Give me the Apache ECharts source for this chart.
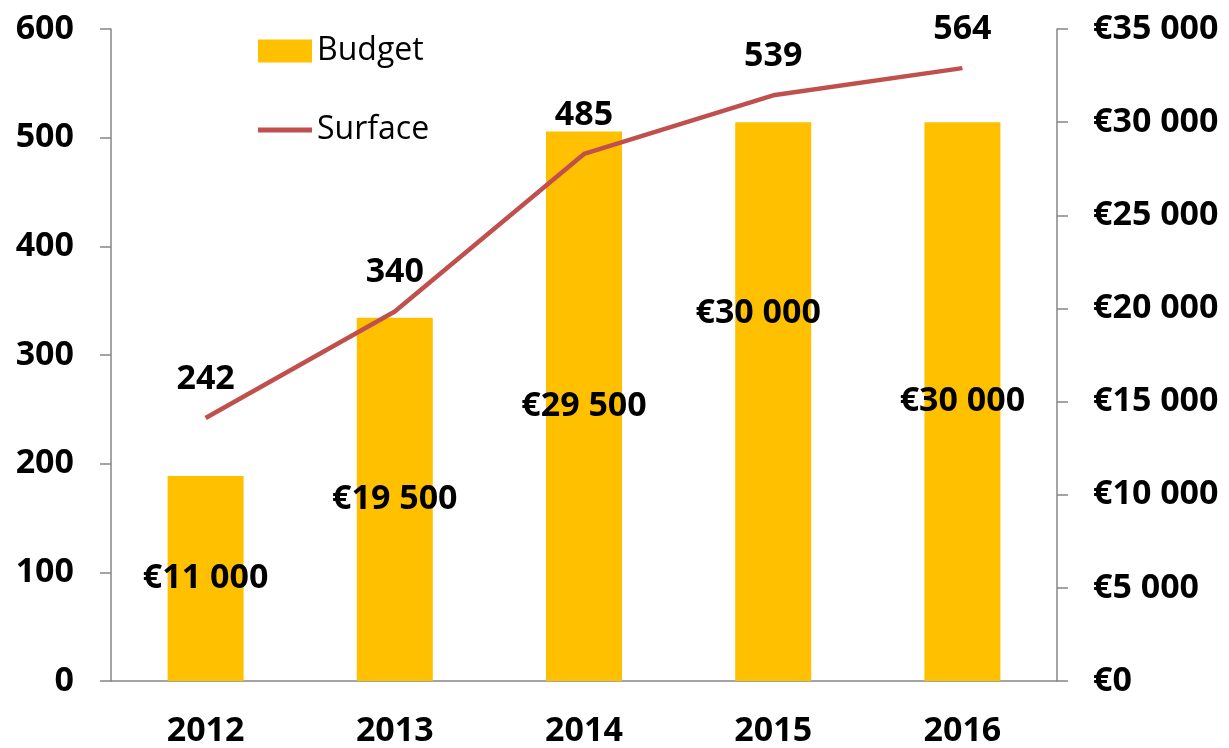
<!DOCTYPE html>
<html>
<head>
<meta charset="utf-8">
<script src="https://cdn.jsdelivr.net/npm/echarts@6/dist/echarts.min.js"></script>
<style>
  html, body { margin: 0; padding: 0; background: #fff; }
  #chart { width: 1229px; height: 748px; }
</style>
</head>
<body>
<div id="chart"></div>
<script>
const years = ['2012', '2013', '2014', '2015', '2016']
const budget = [11000, 19500, 29500, 30000, 30000]
const surface = [242, 340, 485, 539, 564]

const font = "'Open Sans', 'Noto Sans', sans-serif"
const axisColor = '#868686'
const fs = 34

// Excel moved the 2015 budget label by hand
const budgetLabelOffset = { 3: [-15, -88] }

function euro(v) {
  return '€' + String(v).replace(/\B(?=(\d{3})+(?!\d))/g, ' ')
}

const chart = echarts.init(document.getElementById('chart'))
chart.setOption({
  backgroundColor: '#fff',
  animation: false,
  textStyle: { fontFamily: font },
  legend: {
    orient: 'vertical',
    left: 258,
    top: 35,
    padding: 0,
    itemWidth: 54,
    itemHeight: 23,
    itemGap: 47,
    textStyle: { fontSize: 32, lineHeight: 23, color: '#000' },
    data: [
      { name: 'Budget', icon: 'rect' },
      { name: 'Surface', icon: 'path://M0,0 h56 v5 h-56 z' }
    ]
  },
  grid: {
    left: 111,
    right: 172,
    top: 29,
    bottom: 67
  },
  xAxis: {
    type: 'category',
    data: years,
    axisLine: { lineStyle: { color: axisColor, width: 1.5 } },
    axisTick: { length: 11, lineStyle: { color: axisColor, width: 1.5 } },
    axisLabel: {
      margin: 33,
      fontSize: fs,
      fontWeight: 'bold',
      color: '#000'
    }
  },
  yAxis: [{
    type: 'value',
    min: 0,
    max: 600,
    interval: 100,
    splitLine: { show: false },
    axisLine: { show: true, lineStyle: { color: axisColor, width: 1.5 } },
    axisTick: { show: true, length: 11, lineStyle: { color: axisColor, width: 1.5 } },
    axisLabel: {
      margin: 37,
      fontSize: fs,
      fontWeight: 'bold',
      color: '#000'
    }
  }, {
    type: 'value',
    min: 0,
    max: 35000,
    interval: 5000,
    splitLine: { show: false },
    axisLine: { show: true, lineStyle: { color: axisColor, width: 1.5 } },
    axisTick: { show: true, length: 11, lineStyle: { color: axisColor, width: 1.5 } },
    axisLabel: {
      margin: 36,
      fontSize: fs,
      fontWeight: 'bold',
      color: '#000',
      formatter: euro
    }
  }],
  series: [{
    name: 'Budget',
    type: 'bar',
    yAxisIndex: 1,
    barWidth: 76,
    itemStyle: { color: '#FFC000' },
    label: {
      show: true,
      position: 'inside',
      fontSize: fs,
      fontWeight: 'bold',
      color: '#000',
      formatter: p => euro(p.value)
    },
    data: budget.map((v, i) => budgetLabelOffset[i]
      ? { value: v, label: { offset: budgetLabelOffset[i] } }
      : v)
  }, {
    name: 'Surface',
    type: 'line',
    yAxisIndex: 0,
    symbol: 'circle',
    symbolSize: 0,
    lineStyle: { color: '#C0504D', width: 4.5 },
    itemStyle: { color: '#C0504D' },
    label: {
      show: true,
      position: 'top',
      distance: 22,
      fontSize: fs,
      fontWeight: 'bold',
      color: '#000'
    },
    data: surface
  }]
})
</script>
</body>
</html>
